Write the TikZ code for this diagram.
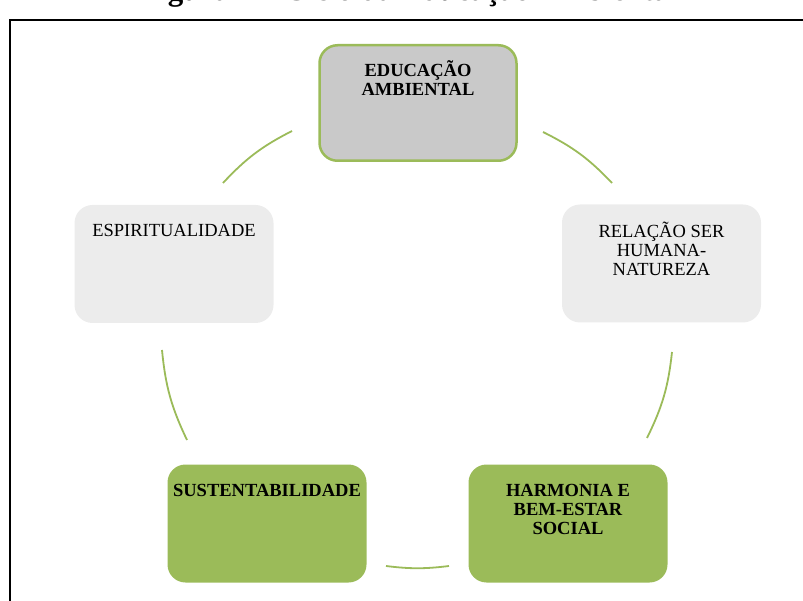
\documentclass[tikz,border=0pt]{standalone}
\usepackage{fontspec}
\setmainfont{Liberation Serif}
\definecolor{grn}{HTML}{9BBB59}
\definecolor{gry}{HTML}{C9C9C9}
\definecolor{lgry}{HTML}{ECECEC}
\newcommand\boxlines[1]{\vtop{\baselineskip=19pt\lineskiplimit=-20pt\halign{\hfil##\hfil\cr#1\crcr}}}
\begin{document}
\begin{tikzpicture}[x=1pt,y=-1pt,
  cyclebox/.style={rounded corners=18pt, minimum width=199pt, minimum height=118pt, inner sep=0pt, outer sep=0pt},
  boxtext/.style={anchor=base, inner sep=0pt, font=\fontsize{18.5}{19}\selectfont},
  boldtext/.style={anchor=base, inner sep=0pt, font=\fontsize{18.5}{19}\selectfont\bfseries},
  cyclearc/.style={draw=grn, line width=1.8pt, bend left=10}
]
\useasboundingbox (0,0) rectangle (803,601);
% title (cut off at the top)
\node[anchor=base west, inner sep=0pt, font=\fontsize{31}{32}\selectfont\bfseries] (title) at (140,1) {Figura 1 – Ciclo da Educação Ambiental};
% frame
\coordinate (fbl) at (10,601);
\coordinate (ftl) at (10,20);
\coordinate (ftr) at (803,20);
\draw[line width=2pt] (fbl) -- (ftl) -- (ftr);
% boxes
\node[cyclebox, fill=gry, draw=grn, line width=2.5pt, minimum width=197pt, minimum height=115.5pt] (edu) at (418,103) {};
\node[cyclebox, fill=lgry] (rel) at (661.5,263.5) {};
\node[cyclebox, fill=grn] (har) at (568,523.5) {};
\node[cyclebox, fill=grn] (sus) at (267,523.5) {};
\node[cyclebox, fill=lgry] (esp) at (174,264) {};
% texts
\node[boldtext] (edut) at ([yshift=-31pt]edu.north) {\boxlines{EDUCAÇÃO\cr AMBIENTAL}};
\node[boxtext] (relt) at ([yshift=-33pt]rel.north) {\boxlines{RELAÇÃO SER\cr HUMANA-\cr NATUREZA}};
\node[boldtext] (hart) at ([yshift=-32pt]har.north) {\boxlines{HARMONIA E\cr BEM-ESTAR\cr SOCIAL}};
\node[boldtext] (sust) at ([yshift=-32pt]sus.north) {\boxlines{SUSTENTABILIDADE}};
\node[boxtext] (espt) at ([yshift=-32pt]esp.north) {\boxlines{ESPIRITUALIDADE}};
% arcs
\coordinate (a1s) at (223,183);
\coordinate (a1e) at (292,131);
\coordinate (a2s) at (543,132);
\coordinate (a2e) at (612,183);
\coordinate (a3s) at (672,352);
\coordinate (a3e) at (647,438);
\coordinate (a4s) at (449,566);
\coordinate (a4e) at (386,566);
\coordinate (a5s) at (187,440);
\coordinate (a5e) at (162,350);
\draw[cyclearc] (a1s) to (a1e);
\draw[cyclearc] (a2s) to (a2e);
\draw[cyclearc] (a3s) to (a3e);
\draw[cyclearc, bend left=7] (a4s) to (a4e);
\draw[cyclearc] (a5s) to (a5e);
\end{tikzpicture}
\end{document}
